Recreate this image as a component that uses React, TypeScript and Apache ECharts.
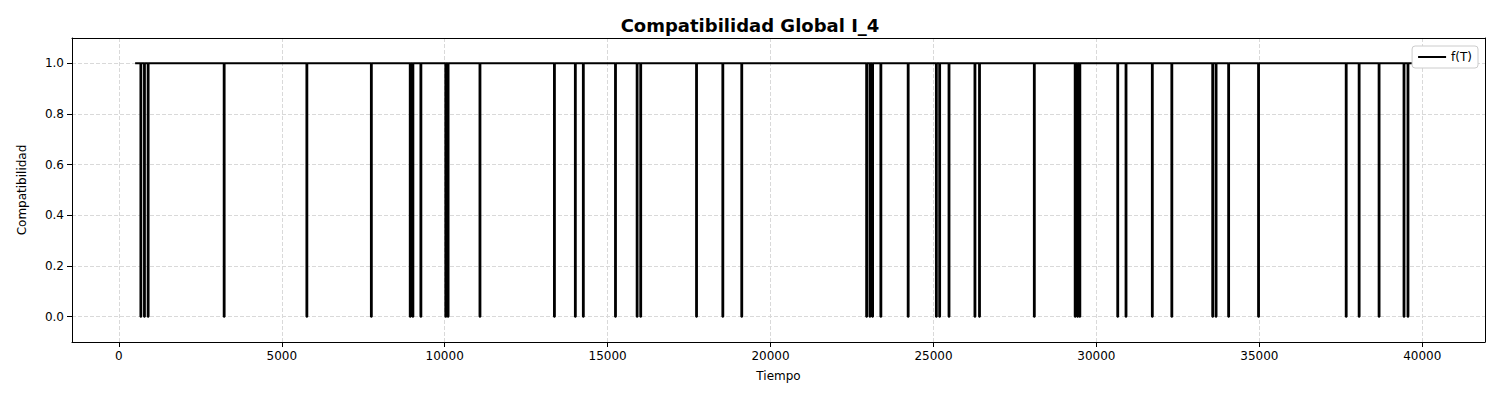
import React, { useEffect, useRef } from "react";
import * as echarts from "echarts";

const startT = 500;
const endT = 39950;
const dropTimes = [664, 774, 887, 3220, 5758, 7737, 8930, 9012, 9257, 10021, 10092, 11070, 13355, 13997, 14242, 15229, 15893, 16003, 17716, 18523, 19104, 22936, 23037, 23119, 23373, 24211, 25076, 25177, 25464, 26260, 26400, 28082, 29336, 29410, 29479, 30642, 30896, 31703, 32302, 33556, 33660, 34045, 34963, 37653, 38050, 38662, 39427, 39549];
const dropWidth = 25;
const xTicks = [0, 5000, 10000, 15000, 20000, 25000, 30000, 35000, 40000];
const yTicks = [0, 0.2, 0.4, 0.6, 0.8, 1.0];

export default function App() {
  const ref = useRef<HTMLDivElement>(null);
  useEffect(() => {
    const chart = echarts.init(ref.current!, null, { renderer: "svg" });
    const data: number[][] = [[startT, 1]];
    dropTimes.forEach((t) => {
      data.push([t, 1], [t, 0], [t + dropWidth, 0], [t + dropWidth, 1]);
    });
    data.push([endT, 1]);
    const font = "DejaVu Sans";
    const xMin = -1437, xMax = 41925;
    const frameAxis = { axisLine: { show: true, onZero: false, lineStyle: { color: "#000" } }, axisTick: { show: false }, axisLabel: { show: false }, splitLine: { show: false } };
    chart.setOption({
      animation: false,
      textStyle: { fontFamily: font },
      title: { text: "Compatibilidad Global I_4", left: "center", top: 3, textStyle: { fontSize: 18, fontWeight: "bold", color: "#000", fontFamily: font } },
      legend: { right: 14, top: 38, data: ["f(T)"], itemWidth: 28, itemHeight: 2, icon: "rect", backgroundColor: "#fff", borderColor: "#ccc", borderWidth: 1, borderRadius: 3, padding: [5, 6], textStyle: { fontSize: 12, color: "#000" } },
      grid: { left: 59, right: 7, top: 30, bottom: 50, containLabel: false },
      xAxis: [{
        type: "value", min: xMin, max: xMax, name: "Tiempo", nameLocation: "middle", nameGap: 28,
        nameTextStyle: { fontSize: 12, color: "#000" },
        axisLine: { onZero: false, lineStyle: { color: "#000" } },
        axisTick: { customValues: xTicks, lineStyle: { color: "#000" } },
        axisLabel: { customValues: xTicks, color: "#000", fontSize: 12, formatter: (v: number) => String(v) },
        splitLine: { show: true, lineStyle: { type: "dashed", color: "#d9d9d9" } },
      }, { type: "value", position: "top", min: xMin, max: xMax, ...frameAxis }],
      yAxis: [{
        type: "value", min: -0.1, max: 1.1, name: "Compatibilidad", nameLocation: "middle", nameGap: 44,
        nameTextStyle: { fontSize: 12, color: "#000" },
        axisLine: { show: true, onZero: false, lineStyle: { color: "#000" } },
        axisTick: { show: true, customValues: yTicks, lineStyle: { color: "#000" } },
        axisLabel: { customValues: yTicks, color: "#000", fontSize: 12, formatter: (v: number) => v.toFixed(1) },
        splitLine: { show: true, lineStyle: { type: "dashed", color: "#d9d9d9" } },
      }, { type: "value", position: "right", min: -0.1, max: 1.1, ...frameAxis }],
      series: [{ name: "f(T)", type: "line", data, showSymbol: false, symbol: "none", lineStyle: { color: "#000", width: 2 }, itemStyle: { color: "#000" } }],
    });
    return () => chart.dispose();
  }, []);
  return <div ref={ref} style={{ width: 1484, height: 384 }} />;
}
